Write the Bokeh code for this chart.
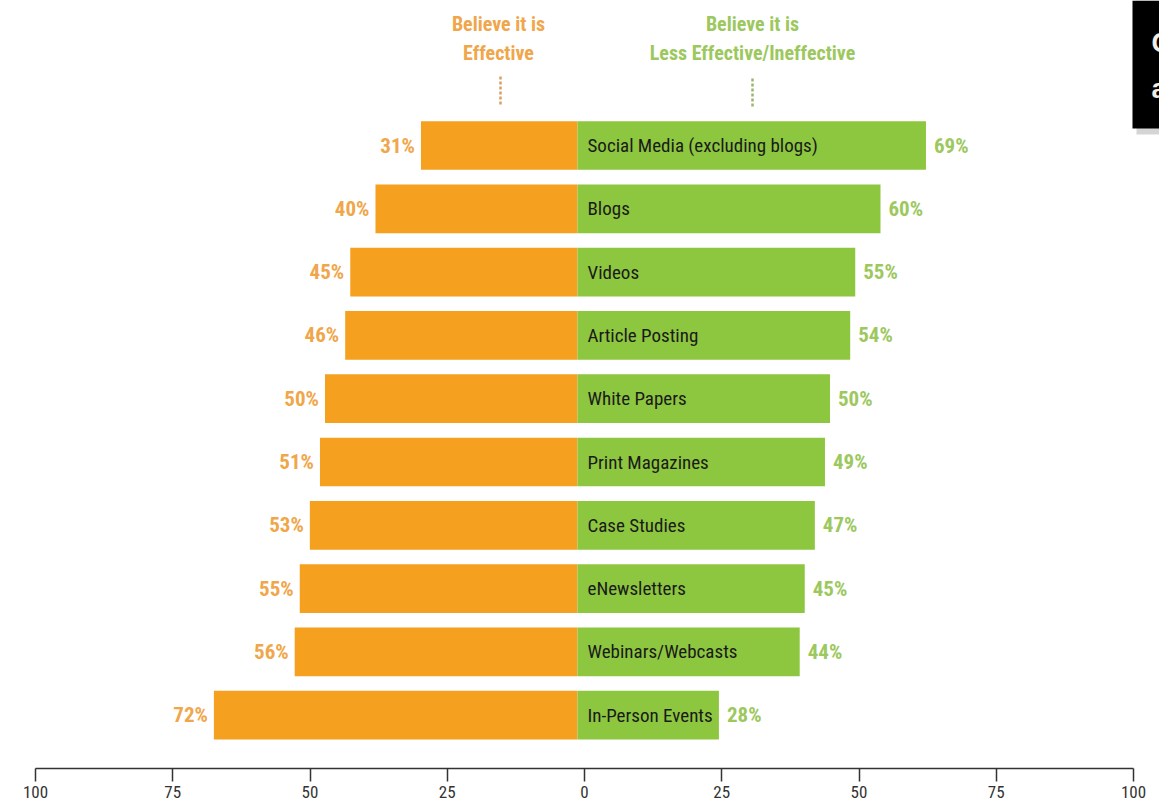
from bokeh.plotting import figure
from bokeh.models import Range1d, LinearAxis, FixedTicker, ColumnDataSource, Label, BoxAnnotation
from bokeh.core.properties import value
from bokeh.embed import file_html
from bokeh.resources import INLINE

categories = ["Social Media (excluding blogs)", "Blogs", "Videos", "Article Posting",
              "White Papers", "Print Magazines", "Case Studies", "eNewsletters",
              "Webinars/Webcasts", "In-Person Events"]
effective = [31, 40, 45, 46, 50, 51, 53, 55, 56, 72]
less_effective = [69, 60, 55, 54, 50, 49, 47, 45, 44, 28]
axis_ticks = [-100, -75, -50, -25, 0, 25, 50, 75, 100]

FONT = "'Liberation Sans Narrow', 'Roboto Condensed', 'Liberation Sans', sans-serif"
ORANGE = "#F6A01F"
GREEN = "#8DC63F"
ORANGE_TXT = "#F0A64A"
GREEN_TXT = "#9CC85E"

W, H = 1159, 807
FRAME_BOTTOM = 768
ZERO_PX = 577
BAR_SCALE = 5.05      # px per percent for bars
AX_SCALE = 5.49       # px per unit on the printed axis
AX_ZERO = 584

def px2x(px):
    return (px - ZERO_PX) / BAR_SCALE

def py2i(py):
    return (py - 145) / 63.3

p = figure(width=W, height=H, output_backend="svg", toolbar_location=None,
           x_range=Range1d(px2x(0), px2x(W)), y_range=Range1d(py2i(FRAME_BOTTOM), py2i(0)),
           x_axis_location=None, y_axis_location=None,
           min_border_left=0, min_border_right=0, min_border_top=0,
           min_border_bottom=H - FRAME_BOTTOM)
p.outline_line_color = None
p.xgrid.visible = False
p.ygrid.visible = False
p.background_fill_color = "white"

p.extra_x_ranges = {"ax": Range1d(-AX_ZERO / AX_SCALE, (W - AX_ZERO) / AX_SCALE)}
ax = LinearAxis(x_range_name="ax", ticker=FixedTicker(ticks=axis_ticks), bounds=(-100, 100))
ax.major_label_overrides = {t: str(abs(t)) for t in axis_ticks}
ax.axis_line_color = "#333333"
ax.axis_line_width = 1.5
ax.major_tick_line_color = "#333333"
ax.major_tick_line_width = 1.5
ax.major_tick_out = 13
ax.major_tick_in = 0
ax.minor_tick_out = 0
ax.minor_tick_in = 0
ax.major_label_standoff = 4
ax.major_label_text_font = FONT
ax.major_label_text_font_size = "17px"
ax.major_label_text_color = "#333333"
p.add_layout(ax, "below")

idx = list(range(len(categories)))
src = ColumnDataSource(dict(
    y=idx,
    neg=[-v for v in effective],
    pos=less_effective,
    cat=categories,
    eff_lbl=[f"{v}%" for v in effective],
    less_lbl=[f"{v}%" for v in less_effective],
))

p.hbar(y="y", left="neg", right=0, height=0.77, source=src, fill_color=ORANGE, line_color=None)
p.hbar(y="y", left=0, right="pos", height=0.77, source=src, fill_color=GREEN, line_color=None)

p.text(x=0, y="y", text="cat", source=src, x_offset=10, text_align="left", text_baseline="middle",
       text_font=value(FONT), text_font_size="19px", text_color="#1a1a1a")
p.text(x="neg", y="y", text="eff_lbl", source=src, x_offset=-6, text_align="right", text_baseline="middle",
       text_font=value(FONT), text_font_size="21px", text_font_style="bold", text_color=ORANGE_TXT)
p.text(x="pos", y="y", text="less_lbl", source=src, x_offset=8, text_align="left", text_baseline="middle",
       text_font=value(FONT), text_font_size="21px", text_font_style="bold", text_color=GREEN_TXT)

# header labels
for txt, py in [("Believe it is", 23), ("Effective", 52)]:
    p.add_layout(Label(x=px2x(498), y=py2i(py), text=txt, text_align="center", text_baseline="middle",
                       text_font=FONT, text_font_size="20px", text_font_style="bold", text_color=ORANGE_TXT))
for txt, py in [("Believe it is", 23), ("Less Effective/Ineffective", 52)]:
    p.add_layout(Label(x=px2x(752), y=py2i(py), text=txt, text_align="center", text_baseline="middle",
                       text_font=FONT, text_font_size="20px", text_font_style="bold", text_color=GREEN_TXT))

p.segment(x0=[px2x(500)], y0=[py2i(76)], x1=[px2x(500)], y1=[py2i(106)],
          line_color="#D8A064", line_width=2.5, line_dash="3 2")
p.segment(x0=[px2x(752)], y0=[py2i(78)], x1=[px2x(752)], y1=[py2i(107)],
          line_color="#9AB46E", line_width=2.5, line_dash="3 2")

# cut-off black box at top right
p.add_layout(BoxAnnotation(left=px2x(1136), bottom=py2i(134), fill_color="#888888", fill_alpha=0.35,
                           line_color=None))
p.add_layout(BoxAnnotation(left=px2x(1132), bottom=py2i(128), fill_color="black", fill_alpha=1.0,
                           line_color=None))
p.add_layout(Label(x=px2x(1151), y=py2i(42), text="C", text_align="left", text_baseline="middle",
                   text_font="'Liberation Sans', sans-serif", text_font_size="27px", text_font_style="bold",
                   text_color="#F2EEE2"))
p.add_layout(Label(x=px2x(1151), y=py2i(88), text="a", text_align="left", text_baseline="middle",
                   text_font="'Liberation Sans', sans-serif", text_font_size="27px", text_font_style="bold",
                   text_color="#F2EEE2"))

open("out.html", "w").write(file_html(p, INLINE))
